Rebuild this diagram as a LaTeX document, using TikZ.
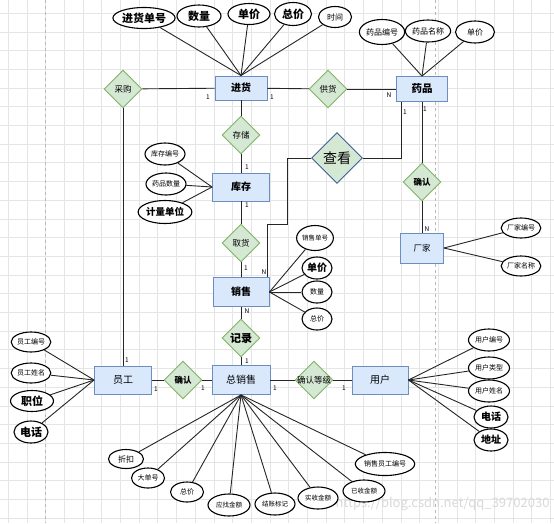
\documentclass[tikz,border=0pt]{standalone}
\usepackage{fontspec}
\setmainfont{Noto Sans CJK SC}
\usetikzlibrary{shapes.geometric, positioning}
\definecolor{entfill}{HTML}{DAE8FC}
\definecolor{entdraw}{HTML}{6C8EBF}
\definecolor{relfill}{HTML}{D5E8D4}
\definecolor{reldraw}{HTML}{82B366}
\definecolor{seedraw}{HTML}{3E5E9C}
\newcommand{\dtext}[1]{\makebox[0pt]{#1}}
\tikzset{%
	entity/.style={
		rectangle,
		draw=entdraw,
		fill=entfill,
		line width=0.9pt,
		inner sep=0pt,
		font=\fontsize{10}{12}\selectfont
	},
	relation/.style={
		diamond,
		draw=reldraw,
		fill=relfill,
		line width=0.9pt,
		inner sep=0pt,
		minimum width=38pt,
		minimum height=38pt,
		font=\fontsize{8.5}{10}\selectfont
	},
	attr/.style={
		ellipse,
		draw,
		fill=white,
		line width=1.1pt,
		inner sep=0pt,
		minimum height=21pt,
		font=\fontsize{8}{10}\selectfont
	},
	bigattr/.style={
		attr,
		font=\bfseries\fontsize{11}{13}\selectfont
	},
	card/.style={
		inner sep=0pt,
		font=\fontsize{6.5}{8}\selectfont
	},
	link/.style={
		line width=0.9pt,
		draw=black!85
	},
}

\begin{document}
\begin{tikzpicture}[x=1pt, y=-1pt]
			\useasboundingbox (0,0) rectangle (554,523);
			\fill[white] (0,0) rectangle (554,523);
			
			% Grid paper
			\foreach \i in {0,...,29}
				\draw[gray!20, line width=0.4pt] ({8+18.7*\i},0) -- ({8+18.7*\i},523);
			\foreach \i in {0,...,27}
				\draw[gray!20, line width=0.4pt] (0,{13+18.7*\i}) -- (554,{13+18.7*\i});
			\draw[gray!55, dashed, line width=0.7pt] (45.5,0) -- (45.5,523);
			\draw[gray!55, dashed, line width=0.7pt] (435,0) -- (435,523);
			\node[text=gray!30, anchor=east, font=\fontsize{13}{15}\selectfont] (wm) at (553,504) {https://blog.csdn.net/qq\_39702030};
			
			% Entities
			\node[entity, minimum width=52pt, minimum height=24pt, font=\bfseries\fontsize{10}{12}\selectfont] (jinhuo) at (241,88) {进货};
			\node[entity, minimum width=51pt, minimum height=25pt, font=\bfseries\fontsize{10.5}{12}\selectfont] (yaopin) at (422,89) {药品};
			\node[entity, minimum width=57pt, minimum height=28pt, font=\bfseries\fontsize{10}{12}\selectfont] (kucun) at (241,187) {库存};
			\node[entity, minimum width=43pt, minimum height=30pt, font=\fontsize{8.5}{10}\selectfont] (changjia) at (422,248) {厂家};
			\node[entity, minimum width=56pt, minimum height=29pt, font=\bfseries\fontsize{10}{12}\selectfont] (xiaoshou) at (241,292) {销售};
			\node[entity, minimum width=57pt, minimum height=28pt] (yuangong) at (123,380) {员工};
			\node[entity, minimum width=58pt, minimum height=29pt] (zongxs) at (241,380) {总销售};
			\node[entity, minimum width=56pt, minimum height=28pt] (yonghu) at (380,380) {用户};
			
			% Relations
			\node[relation] (caigou) at (123,89) {\dtext{采购}};
			\node[relation] (gonghuo) at (328,89) {\dtext{供货}};
			\node[relation] (cunchu) at (241,135) {\dtext{存储}};
			\node[relation, draw=seedraw, minimum width=51pt, minimum height=51pt, font=\fontsize{14}{16}\selectfont] (chakan) at (337,158) {\dtext{查看}};
			\node[relation] (queren1) at (422,182) {\dtext{\bfseries 确认}};
			\node[relation] (quhuo) at (241,243) {\dtext{取货}};
			\node[relation, font=\bfseries\fontsize{11}{13}\selectfont] (jilu) at (241,338) {\dtext{记录}};
			\node[relation] (queren2) at (183,380) {\dtext{\bfseries 确认}};
			\node[relation] (querendj) at (314,380) {\dtext{确认等级}};
			
			% Attributes
			\node[bigattr, minimum width=56pt] (jh1) at (144,18) {进货单号};
			\node[bigattr, minimum width=44pt, minimum height=22pt] (jh2) at (199,16) {数量};
			\node[bigattr, minimum width=42pt] (jh3) at (249,14) {单价};
			\node[bigattr, minimum width=37pt, minimum height=23pt] (jh4) at (293,14) {总价};
			\node[attr, minimum width=33pt] (jh5) at (335,17) {时间};
			
			\node[attr, minimum width=43pt, minimum height=25pt] (yp1) at (382,32) {药品编号};
			\node[attr, minimum width=44pt, minimum height=22pt] (yp2) at (428,31) {药品名称};
			\node[attr, minimum width=39pt, minimum height=22pt] (yp3) at (475,32) {单价};
			
			\node[attr, minimum width=40pt, minimum height=22pt, font=\fontsize{7}{9}\selectfont] (kc1) at (165,154) {库存编号};
			\node[attr, minimum width=40pt, minimum height=22pt, font=\fontsize{7}{9}\selectfont] (kc2) at (166,184) {药品数量};
			\node[bigattr, minimum width=44pt, minimum height=23pt, font=\bfseries\fontsize{9.5}{11}\selectfont] (kc3) at (165,212) {计量单位};
			
			\node[attr, minimum width=39pt, minimum height=20pt, font=\fontsize{7}{9}\selectfont] (cj1) at (521,228) {厂家编号};
			\node[attr, minimum width=39pt, minimum height=20pt, font=\fontsize{7}{9}\selectfont] (cj2) at (521,266) {厂家名称};
			
			\node[attr, minimum width=31pt, minimum height=25pt, font=\fontsize{6.5}{8}\selectfont] (xs1) at (315,238) {销售单号};
			\node[bigattr, minimum width=30pt, minimum height=22pt, font=\bfseries\fontsize{10}{12}\selectfont] (xs2) at (317,268) {单价};
			\node[attr, minimum width=30pt, minimum height=22pt, font=\fontsize{7}{9}\selectfont] (xs3) at (317,292) {数量};
			\node[attr, minimum width=30pt, minimum height=22pt, font=\fontsize{7}{9}\selectfont] (xs4) at (317,319) {总价};
			
			\node[attr, minimum width=39pt, minimum height=20pt, font=\fontsize{7}{9}\selectfont] (yg1) at (31,342) {员工编号};
			\node[attr, minimum width=39pt, minimum height=20pt, font=\fontsize{7}{9}\selectfont] (yg2) at (31,373) {员工姓名};
			\node[bigattr, minimum width=43pt, minimum height=21pt] (yg3) at (32,401) {职位};
			\node[bigattr, minimum width=34pt, minimum height=22pt] (yg4) at (31,432) {电话};
			
			\node[attr, minimum width=41pt, minimum height=22pt, font=\fontsize{7}{9}\selectfont] (yh1) at (489,340) {用户编号};
			\node[attr, minimum width=41pt, minimum height=22pt, font=\fontsize{7}{9}\selectfont] (yh2) at (489,368) {用户类型};
			\node[attr, minimum width=41pt, minimum height=22pt, font=\fontsize{7}{9}\selectfont] (yh3) at (489,391) {用户姓名};
			\node[bigattr, minimum width=34pt, minimum height=22pt, font=\bfseries\fontsize{10}{12}\selectfont] (yh4) at (491,417) {电话};
			\node[bigattr, minimum width=34pt, minimum height=22pt, font=\bfseries\fontsize{10}{12}\selectfont] (yh5) at (491,440) {地址};
			
			\node[attr, minimum width=35pt, minimum height=19pt] (zx1) at (126,459) {折扣};
			\node[attr, minimum width=33pt, minimum height=20pt, font=\fontsize{7}{9}\selectfont] (zx2) at (148,478) {大单号};
			\node[attr, minimum width=33pt, minimum height=20pt, font=\fontsize{7}{9}\selectfont] (zx3) at (187,492) {总价};
			\node[attr, minimum width=42pt, minimum height=22pt, font=\fontsize{6.5}{8}\selectfont] (zx4) at (229,505) {应找金额};
			\node[attr, minimum width=40pt, minimum height=22pt, font=\fontsize{6.5}{8}\selectfont] (zx5) at (275,504) {结账标记};
			\node[attr, minimum width=40pt, minimum height=22pt, font=\fontsize{6.5}{8}\selectfont] (zx6) at (318,498) {实收金额};
			\node[attr, minimum width=42pt, minimum height=22pt, font=\fontsize{6.5}{8}\selectfont] (zx7) at (364,491) {已收金额};
			\node[attr, minimum width=58pt, minimum height=23pt, font=\fontsize{7}{9}\selectfont] (zx8) at (385,464) {销售员工编号};
			
			% Attribute lines
			\foreach \a in {jh1,jh2,jh3,jh4,jh5}
				\draw[link] (jinhuo.north) -- (\a);
			\foreach \a in {yp1,yp2,yp3}
				\draw[link] (yaopin.north) -- (\a);
			\foreach \a in {kc1,kc2,kc3}
				\draw[link] (kucun.west) -- (\a);
			\foreach \a in {cj1,cj2}
				\draw[link] (changjia.east) -- (\a);
			\foreach \a in {xs1,xs2,xs3,xs4}
				\draw[link] (xiaoshou.east) -- (\a);
			\foreach \a in {yg1,yg2,yg3,yg4}
				\draw[link] (yuangong.west) -- (\a);
			\foreach \a in {yh1,yh2,yh3,yh4,yh5}
				\draw[link] (yonghu.east) -- (\a);
			\foreach \a in {zx1,zx2,zx3,zx4,zx5,zx6,zx7,zx8}
				\draw[link] (zongxs.south) -- (\a);
			
			% Relation lines
			\draw[link] (caigou) -- (jinhuo);
			\draw[link] (jinhuo) -- (gonghuo);
			\draw[link] (gonghuo) -- (yaopin);
			\draw[link] (caigou) -- (yuangong);
			\draw[link] (jinhuo) -- (cunchu);
			\draw[link] (cunchu) -- (kucun);
			\draw[link] (kucun) -- (quhuo);
			\draw[link] (quhuo) -- (xiaoshou);
			\draw[link] (xiaoshou) -- (jilu);
			\draw[link] (jilu) -- (zongxs);
			\draw[link] (yuangong) -- (queren2);
			\draw[link] (queren2) -- (zongxs);
			\draw[link] (zongxs) -- (querendj);
			\draw[link] (querendj) -- (yonghu);
			\draw[link] (yaopin) -- (queren1);
			\draw[link] (queren1) -- (changjia);
			
			\coordinate (ck1) at (287,224);
			\draw[link] ([xshift=-2pt]xiaoshou.north east) |- (ck1) |- (chakan.west);
			\draw[link] (chakan.east) -| ([xshift=5pt]yaopin.south west);
			
			% Cardinalities
			\node[card] (n1) at (208,97) {1};
			\node[card] (n2) at (272,97) {1};
			\node[card] (n3) at (389,95) {N};
			\node[card] (n4) at (405,112) {1};
			\node[card] (n5) at (425,109) {1};
			\node[card] (n6) at (427,229) {N};
			\node[card] (n7) at (247,167) {1};
			\node[card] (n8) at (247,205) {1};
			\node[card] (n9) at (246,268) {1};
			\node[card] (n10) at (264,272) {N};
			\node[card] (n11) at (247,311) {N};
			\node[card] (n12) at (247,361) {1};
			\node[card] (n13) at (127,360) {1};
			\node[card] (n14) at (156,389) {1};
			\node[card] (n15) at (203,388) {1};
			\node[card] (n16) at (275,388) {1};
			\node[card] (n17) at (344,388) {1};
		\end{tikzpicture}
\end{document}
